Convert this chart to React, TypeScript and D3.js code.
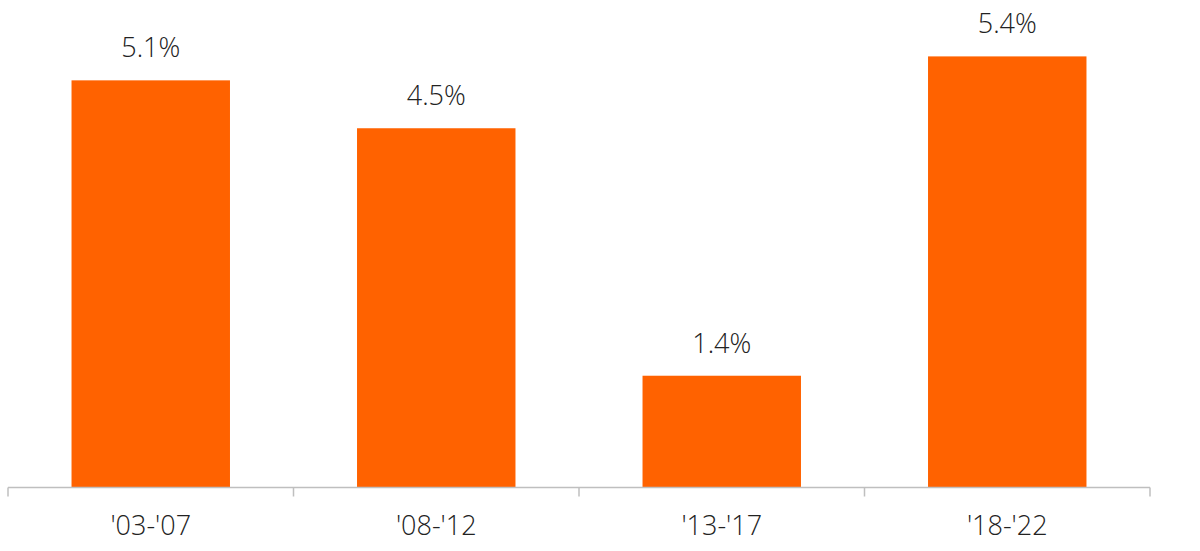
import React, { useEffect, useRef } from 'react';
import * as d3 from 'd3';

const periods = ["'03-'07", "'08-'12", "'13-'17", "'18-'22"];
const growth = [5.1, 4.5, 1.4, 5.4];
const yMax = 6;

export default function App() {
  const svgRef = useRef<SVGSVGElement>(null);

  useEffect(() => {
    const w = 1200;
    const h = 551;
    const left = 8;
    const right = 1150;
    const base = 487.5;

    const svg = d3.select(svgRef.current).attr('width', w).attr('height', h);
    svg.selectAll('*').remove();

    const x = d3
      .scaleBand()
      .domain(periods)
      .range([left, right])
      .paddingInner(0.445)
      .paddingOuter(0.2225);
    const y = d3.scaleLinear().domain([0, yMax]).range([base, base - 479]);

    const font = "'Open Sans', 'Noto Sans', sans-serif";

    svg
      .selectAll('.bar')
      .data(growth)
      .join('rect')
      .attr('class', 'bar')
      .attr('x', (d, i) => x(periods[i]) as number)
      .attr('width', x.bandwidth())
      .attr('y', (d) => y(d))
      .attr('height', (d) => base - y(d))
      .attr('fill', '#ff6200');

    svg
      .selectAll('.val')
      .data(growth)
      .join('text')
      .attr('class', 'val')
      .attr('x', (d, i) => (x(periods[i]) as number) + x.bandwidth() / 2)
      .attr('y', (d) => y(d) - 23)
      .attr('text-anchor', 'middle')
      .attr('font-family', font)
      .attr('font-size', 27)
      .attr('font-weight', 300)
      .attr('fill', '#222')
      .text((d) => `${d.toFixed(1)}%`);

    // category axis
    const ticks = d3.range(periods.length + 1).map((i) => left + i * x.step());
    svg
      .append('line')
      .attr('x1', left)
      .attr('x2', right)
      .attr('y1', base)
      .attr('y2', base)
      .attr('stroke', '#bfbfbf')
      .attr('stroke-width', 1.5);
    svg
      .selectAll('.tick')
      .data(ticks)
      .join('line')
      .attr('class', 'tick')
      .attr('x1', (d) => d)
      .attr('x2', (d) => d)
      .attr('y1', base)
      .attr('y2', base + 9)
      .attr('stroke', '#bfbfbf')
      .attr('stroke-width', 1.5);

    svg
      .selectAll('.cat')
      .data(periods)
      .join('text')
      .attr('class', 'cat')
      .attr('x', (d) => (x(d) as number) + x.bandwidth() / 2)
      .attr('y', 535)
      .attr('text-anchor', 'middle')
      .attr('font-family', font)
      .attr('font-size', 27)
      .attr('font-weight', 300)
      .attr('fill', '#222')
      .text((d) => d);
  }, []);

  return (
    <div style={{ position: 'absolute', left: 0, top: 0 }}>
      <svg ref={svgRef}></svg>
    </div>
  );
}
